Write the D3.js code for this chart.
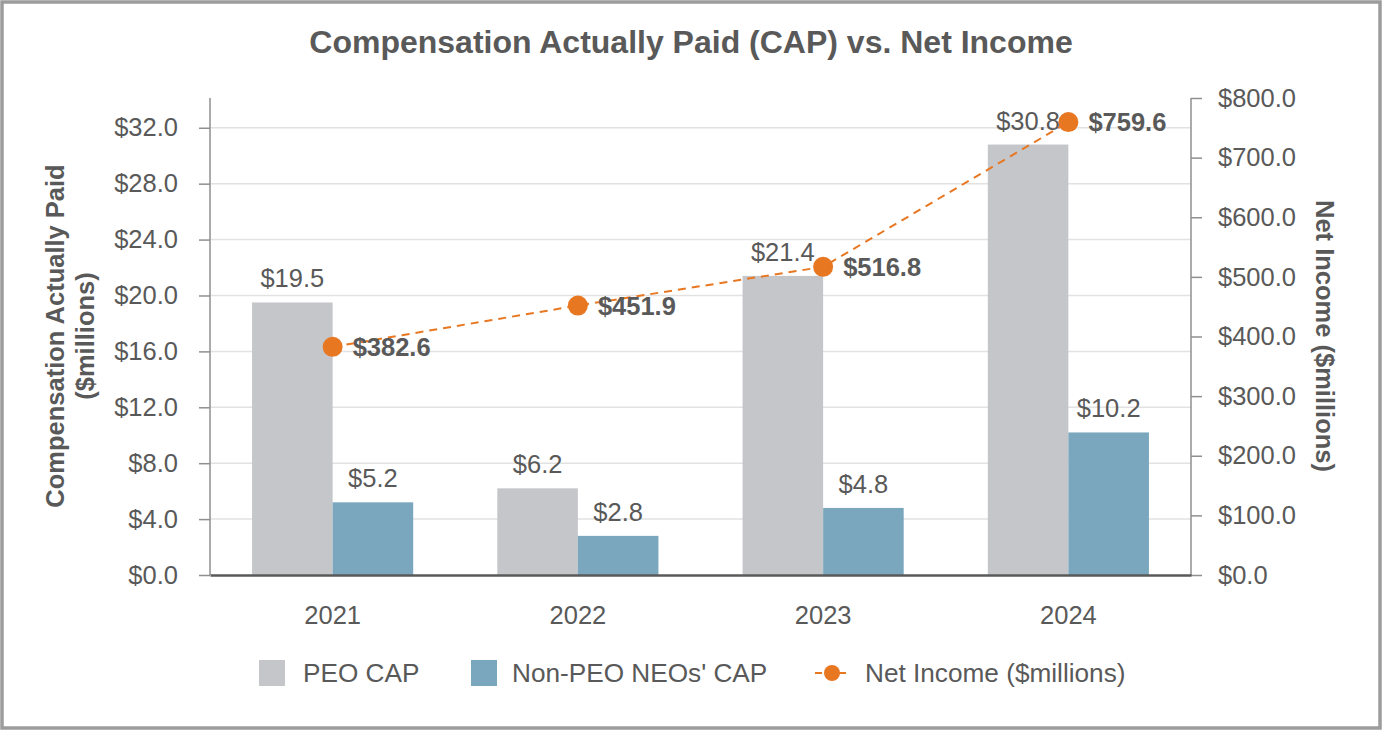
<!DOCTYPE html>
<html>
<head>
<meta charset="utf-8">
<script src="https://cdn.jsdelivr.net/npm/d3@7/dist/d3.min.js"></script>
<style>
  html, body { margin: 0; padding: 0; background: #ffffff; }
  svg { display: block; font-family: "Liberation Sans", Arial, Helvetica, sans-serif; }
</style>
</head>
<body>
<svg id="chart" width="1382" height="730"></svg>
<script>
// ---- data ----
const years = ["2021", "2022", "2023", "2024"];
const peoCap = [19.5, 6.2, 21.4, 30.8];
const nonPeoCap = [5.2, 2.8, 4.8, 10.2];
const netIncome = [382.6, 451.9, 516.8, 759.6];
const leftTicks = [0, 4, 8, 12, 16, 20, 24, 28, 32];
const rightTicks = [0, 100, 200, 300, 400, 500, 600, 700, 800];
const seriesNames = ["PEO CAP", "Non-PEO NEOs' CAP", "Net Income ($millions)"];
const chartTitle = "Compensation Actually Paid (CAP) vs. Net Income";
const leftTitle = ["Compensation Actually Paid", "($millions)"];
const rightTitle = "Net Income ($millions)";

// ---- styles ----
const TEXT = "#595959";
const GRAY = "#c5c6c9";
const BLUE = "#7ba7be";
const ORANGE = "#e87722";
const FS = 25.5;

const svg = d3.select("#chart");
const W = 1382, H = 730;
const m = { left: 210, right: 1191, top: 98, bottom: 575 };

// border
svg.append("rect").attr("x", 2).attr("y", 2).attr("width", W - 4).attr("height", H - 4)
  .attr("fill", "#fff").attr("stroke", "#9c9c9c").attr("stroke-width", 3.5);

// scales
const x0 = d3.scaleBand().domain(years).range([m.left, m.right]).padding(0);
const x1 = d3.scaleBand().domain(["peo", "non"]).range([0, x0.bandwidth()])
  .paddingInner(0).paddingOuter(0.522);
const yL = d3.scaleLinear().domain([0, 34.13]).range([m.bottom, m.top]);
const yR = d3.scaleLinear().domain([0, 800]).range([m.bottom, m.top]);

// title
svg.append("text").attr("x", 691).attr("y", 53).attr("text-anchor", "middle")
  .attr("font-size", 32).attr("font-weight", "bold").attr("fill", TEXT).text(chartTitle);

// gridlines
svg.append("g").selectAll("line").data(leftTicks.filter(d => d > 0)).join("line")
  .attr("x1", m.left).attr("x2", m.right)
  .attr("y1", d => yL(d)).attr("y2", d => yL(d))
  .attr("stroke", "#e2e2e2").attr("stroke-width", 1.5);

// left axis
const gL = svg.append("g").attr("transform", `translate(${m.left},0)`)
  .call(d3.axisLeft(yL).tickValues(leftTicks).tickSize(11).tickPadding(21)
    .tickFormat(d => "$" + d3.format(".1f")(d)));
gL.select(".domain").remove();
gL.append("line").attr("x1", 0).attr("x2", 0).attr("y1", m.top).attr("y2", m.bottom)
  .attr("stroke", "#8f8f8f").attr("stroke-width", 1.5);
gL.selectAll(".tick line").attr("stroke", "#8f8f8f").attr("stroke-width", 1.5);
gL.selectAll(".tick text").attr("font-size", FS).attr("fill", TEXT)
  .attr("font-family", "'Liberation Sans', Arial, sans-serif");

// right axis
const gR = svg.append("g").attr("transform", `translate(${m.right},0)`)
  .call(d3.axisRight(yR).tickValues(rightTicks).tickSize(11).tickPadding(16)
    .tickFormat(d => "$" + d3.format(".1f")(d)));
gR.select(".domain").remove();
gR.append("line").attr("x1", 0).attr("x2", 0).attr("y1", m.top).attr("y2", m.bottom)
  .attr("stroke", "#8f8f8f").attr("stroke-width", 1.5);
gR.selectAll(".tick line").attr("stroke", "#8f8f8f").attr("stroke-width", 1.5);
gR.selectAll(".tick text").attr("font-size", FS).attr("fill", TEXT)
  .attr("font-family", "'Liberation Sans', Arial, sans-serif");

// bars
const rows = years.map((y, i) => ({ year: y, peo: peoCap[i], non: nonPeoCap[i], ni: netIncome[i] }));
const gBars = svg.append("g");
rows.forEach(r => {
  [["peo", GRAY], ["non", BLUE]].forEach(([k, c]) => {
    const bx = x0(r.year) + x1(k);
    gBars.append("rect").attr("x", bx).attr("y", yL(r[k]))
      .attr("width", x1.bandwidth()).attr("height", yL(0) - yL(r[k])).attr("fill", c);
    gBars.append("text").attr("x", bx + x1.bandwidth() / 2).attr("y", yL(r[k]) - 15)
      .attr("text-anchor", "middle").attr("font-size", FS).attr("fill", TEXT)
      .text("$" + d3.format(".1f")(r[k]));
  });
});

// x axis baseline
const gX = svg.append("g").attr("transform", `translate(0,${m.bottom})`)
  .call(d3.axisBottom(x0).tickSize(0).tickPadding(31));
gX.select(".domain").attr("stroke", "#5a5a5a").attr("stroke-width", 2.5);
gX.selectAll(".tick text").attr("font-size", FS).attr("fill", TEXT)
  .attr("font-family", "'Liberation Sans', Arial, sans-serif");

// net income line
const cx = d => x0(d.year) + x0.bandwidth() / 2;
const line = d3.line().x(d => cx(d)).y(d => yR(d.ni));
svg.append("path").datum(rows).attr("d", line).attr("fill", "none")
  .attr("stroke", ORANGE).attr("stroke-width", 2).attr("stroke-dasharray", "8,6");
svg.append("g").selectAll("text").data(rows).join("text")
  .attr("x", d => cx(d) + 20).attr("y", d => yR(d.ni)).attr("dy", "0.36em")
  .attr("font-size", FS).attr("font-weight", "bold").attr("fill", TEXT)
  .text(d => "$" + d3.format(".1f")(d.ni));
svg.append("g").selectAll("circle").data(rows).join("circle")
  .attr("cx", d => cx(d)).attr("cy", d => yR(d.ni)).attr("r", 10).attr("fill", ORANGE);

// axis titles
svg.append("text").attr("transform", "translate(0,336) rotate(-90)")
  .attr("text-anchor", "middle").attr("font-size", 25.5).attr("font-weight", "bold").attr("fill", TEXT)
  .selectAll("tspan").data(leftTitle).join("tspan")
  .attr("x", 0).attr("y", (d, i) => 64 + i * 30).text(d => d);
svg.append("text").attr("transform", "translate(1316,336) rotate(90)")
  .attr("text-anchor", "middle").attr("font-size", 25.5).attr("font-weight", "bold").attr("fill", TEXT)
  .text(rightTitle);

// legend
const LFS = 26.2;
const lg = svg.append("g");
lg.append("rect").attr("x", 259).attr("y", 660).attr("width", 26).attr("height", 26).attr("fill", GRAY);
lg.append("text").attr("x", 303).attr("y", 682).attr("font-size", LFS).attr("fill", TEXT).text(seriesNames[0]);
lg.append("rect").attr("x", 471).attr("y", 660).attr("width", 26).attr("height", 26).attr("fill", BLUE);
lg.append("text").attr("x", 512).attr("y", 682).attr("font-size", LFS).attr("fill", TEXT).text(seriesNames[1]);
lg.append("line").attr("x1", 815).attr("x2", 850).attr("y1", 673).attr("y2", 673)
  .attr("stroke", ORANGE).attr("stroke-width", 2).attr("stroke-dasharray", "7,5");
lg.append("circle").attr("cx", 832).attr("cy", 673).attr("r", 8).attr("fill", ORANGE);
lg.append("text").attr("x", 865).attr("y", 682).attr("font-size", LFS).attr("fill", TEXT).text(seriesNames[2]);
</script>
</body>
</html>
